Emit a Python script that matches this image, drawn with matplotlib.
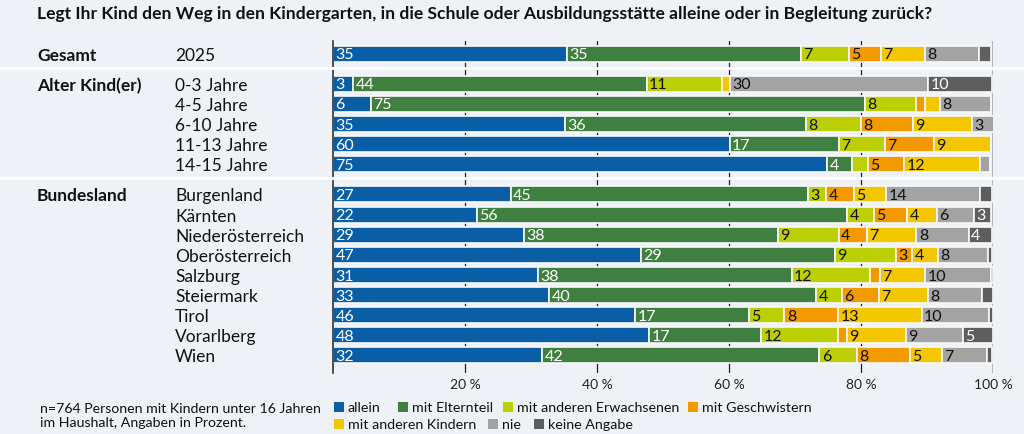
import matplotlib
matplotlib.use("Agg")
import matplotlib.pyplot as plt
from matplotlib.patches import Rectangle
from matplotlib.lines import Line2D
import numpy as np

plt.rcParams['font.family'] = ['Lato', 'DejaVu Sans']

title = "Legt Ihr Kind den Weg in den Kindergarten, in die Schule oder Ausbildungsstätte alleine oder in Begleitung zurück?"

groups = ["Gesamt", "Alter Kind(er)", "Bundesland"]
rows = [
    ["2025"],
    ["0-3 Jahre", "4-5 Jahre", "6-10 Jahre", "11-13 Jahre", "14-15 Jahre"],
    ["Burgenland", "Kärnten", "Niederösterreich", "Oberösterreich", "Salzburg",
     "Steiermark", "Tirol", "Vorarlberg", "Wien"],
]

series = ["allein", "mit Elternteil", "mit anderen Erwachsenen", "mit Geschwistern",
          "mit anderen Kindern", "nie", "keine Angabe"]
colors = ["#0a5ea6", "#3f7f3f", "#bccf04", "#f39a00", "#f4c600", "#a3a3a3", "#5e5e5e"]
label_colors = ["white", "white", "#111111", "#111111", "#111111", "#111111", "white"]

# values per row (Gesamt, 0-3 ... 14-15, Burgenland ... Wien), in order of series
allein       = [35.4, 3.1, 5.75, 35.2, 60.1, 74.85, 26.9, 21.8, 29.0, 46.6, 31.1, 32.8, 45.8, 47.95, 31.7]
elternteil   = [35.45, 44.45, 74.8, 36.4, 16.55, 3.8, 45.1, 56.1, 38.45, 29.45, 38.4, 40.45, 17.2, 16.97, 42.0]
erwachsene   = [7.3, 11.45, 7.8, 8.4, 7.0, 2.4, 2.7, 4.0, 9.2, 9.2, 11.9, 3.8, 5.4, 11.6, 5.75]
geschwister  = [4.85, 0.0, 1.36, 7.9, 7.45, 5.45, 4.2, 5.1, 4.3, 2.55, 1.5, 5.7, 8.1, 1.36, 8.0]
kinder       = [6.7, 1.2, 2.2, 8.9, 8.65, 11.55, 4.9, 4.45, 7.45, 3.8, 6.8, 7.45, 12.7, 8.9, 4.85]
nie          = [8.25, 30.0, 7.8, 3.3, 0.0, 1.5, 14.2, 5.6, 7.95, 7.7, 10.0, 8.1, 10.15, 8.6, 6.8]
keine        = [1.8, 9.7, 0.0, 0.0, 0.0, 0.0, 1.9, 2.7, 3.5, 0.6, 0.3, 1.7, 0.6, 4.55, 0.75]

data = np.array([allein, elternteil, erwachsene, geschwister, kinder, nie, keine], dtype=float)

ticks = [20, 40, 60, 80, 100]
tick_labels = ["20 %", "40 %", "60 %", "80 %", "100 %"]

note = "n=764 Personen mit Kindern unter 16 Jahren\nim Haushalt, Angaben in Prozent."

bg = "#eef2f7"
W, H = 1024, 435
fig = plt.figure(figsize=(W / 100, H / 100), dpi=100, facecolor=bg)

# y positions with group gaps
group_gap = 1.5
ypos = []
group_y = []
y = 0.0
for gi, g in enumerate(rows):
    if gi > 0:
        y += group_gap - 1
    group_y.append(y)
    for r in g:
        ypos.append(y)
        y += 1
ypos = np.array(ypos)

ax = fig.add_axes([333 / W, 1 - 373.5 / H, 660 / W, (373.5 - 41.5) / H])
ax.set_facecolor(bg)
ax.set_xlim(0, 100)
ax.set_ylim(ypos[-1] + 0.85, -0.65)

for t in ticks[:-1]:
    ax.axvline(t, color="#222222", lw=0.9, zorder=0)

left = np.zeros(len(ypos))
for si, name in enumerate(series):
    vals = data[si]
    ax.barh(ypos, vals, left=left, height=0.8, color=colors[si],
            edgecolor="#f7f9fb", linewidth=1.2, zorder=2)
    for yi, v, l in zip(ypos, vals, left):
        if round(v) >= 3:
            ax.text(l + 0.35, yi + 0.03, f"{v:.0f}", ha="left", va="center",
                    color=label_colors[si], fontsize=11.5, zorder=3)
    left += vals

for s in ["top", "bottom", "right"]:
    ax.spines[s].set_visible(False)
ax.spines["left"].set_color("#333333")
ax.spines["left"].set_linewidth(1.2)
ax.axvline(100, color="#a9adb2", lw=1.2, zorder=1)
ax.set_yticks([])
ax.set_xticks(ticks)
ax.set_xticklabels(tick_labels, fontsize=10, color="#222222")
ax.tick_params(axis="x", length=0, pad=4)

def fy(yd):
    return ax.transData.transform((0, yd))[1] / H

# separators between groups (full width)
for gi in range(1, len(rows)):
    ysep = (ypos[sum(len(r) for r in rows[:gi]) - 1] + group_y[gi]) / 2 - 0.05
    yy = fy(ysep)
    fig.add_artist(Line2D([0, 1], [yy, yy], color="white", lw=2.2, zorder=5))

# row labels
idx = 0
for gi, g in enumerate(rows):
    fig.text(37 / W, fy(group_y[gi]) - 1 / H, groups[gi], fontsize=12.5, fontweight="bold",
             ha="left", va="center", color="#111111")
    for r in g:
        fig.text(175 / W, fy(ypos[idx]) - 1 / H, r, fontsize=12.5, ha="left", va="center",
                 color="#111111")
        idx += 1

fig.text(37 / W, 1 - 14 / H, title, fontsize=12.6, fontweight="bold", ha="left",
         va="center", color="#111111")

fig.text(40 / W, 1 - 416 / H, note, fontsize=10.2, ha="left", va="center",
         color="#111111", linespacing=1.25)

# legend
leg_pos = [(334, 408), (398, 408), (503, 408), (688, 408), (334, 425), (488, 425), (534, 425)]
for (lx, ly), name, c in zip(leg_pos, series, colors):
    fig.add_artist(Rectangle((lx / W, 1 - (ly + 5) / H), 10 / W, 10 / H,
                             facecolor=c, edgecolor="none", transform=fig.transFigure))
    fig.text((lx + 14) / W, 1 - ly / H, name, fontsize=10.3, ha="left", va="center",
             color="#111111")

fig.savefig("out.png", dpi=100, facecolor=bg)
